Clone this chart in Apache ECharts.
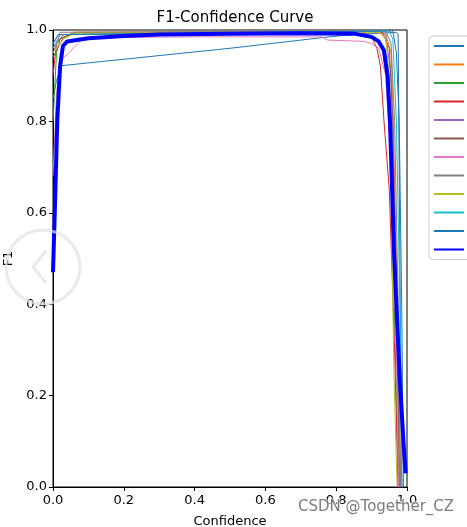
<!DOCTYPE html>
<html>
<head>
<meta charset="utf-8">
<script src="https://cdn.jsdelivr.net/npm/echarts@6/dist/echarts.min.js"></script>
<style>html,body{margin:0;padding:0;background:#fff}#c{width:467px;height:527px}</style>
</head>
<body>
<div id="c"></div>
<script>
const xTicks = [0, 0.2, 0.4, 0.6, 0.8, 1.0];
const yTicks = [0, 0.2, 0.4, 0.6, 0.8, 1.0];
const classNames = ['class0','class1','class2','class3','class4','class5','class6','class7','class8','class9','class10'];
const colors = ['#1f77b4','#ff7f0e','#2ca02c','#d62728','#9467bd','#8c564b','#e377c2','#7f7f7f','#bcbd22','#17becf','#1f77b4'];

const c0 = [[0,0.85],[0.01,0.89],[0.025,0.922],[0.5,0.96],[0.78,0.985],[0.85,0.99],[0.97,0.995],[0.975,0.99],[0.985,0.0]];
const c1 = [[0,0.96],[0.02,0.98],[0.06,0.995],[0.9,0.997],[0.94,0.99],[0.955,0.95],[0.96,0.84],[0.97,0.5],[0.98,0.1],[0.983,0]];
const c2 = [[0,0.80],[0.01,0.95],[0.02,0.98],[0.05,0.99],[0.8,0.993],[0.86,0.99],[0.88,0.985],[0.915,0.98],[0.93,0.96],[0.945,0.88],[0.955,0.7],[0.97,0.2],[0.975,0]];
const c3 = [[0,0.9],[0.01,0.97],[0.03,0.99],[0.88,0.993],[0.9,0.985],[0.915,0.96],[0.925,0.92],[0.935,0.8],[0.95,0.65],[0.965,0.3],[0.975,0]];
const c4 = [[0,0.95],[0.02,0.99],[0.92,0.998],[0.94,0.99],[0.955,0.9],[0.965,0.6],[0.975,0.2],[0.98,0]];
const c5 = [[0,0.94],[0.03,0.985],[0.07,0.995],[0.93,0.996],[0.95,0.96],[0.96,0.8],[0.97,0.4],[0.978,0]];
const c6 = [[0,0.68],[0.01,0.86],[0.02,0.93],[0.03,0.94],[0.045,0.95],[0.06,0.962],[0.08,0.978],[0.1,0.983],[0.4,0.985],[0.76,0.985],[0.775,0.978],[0.88,0.975],[0.9,0.97],[0.92,0.96],[0.94,0.9],[0.955,0.7],[0.97,0.3],[0.976,0]];
const c7 = [[0,0.97],[0.02,0.995],[0.94,0.998],[0.955,0.97],[0.965,0.8],[0.975,0.4],[0.982,0]];
const c8 = [[0,0.95],[0.03,0.98],[0.06,0.993],[0.92,0.995],[0.94,0.98],[0.95,0.9],[0.955,0.8],[0.958,0.5],[0.963,0.25],[0.972,0]];
const c9 = [[0,0.96],[0.02,0.99],[0.95,0.998],[0.96,0.98],[0.97,0.8],[0.98,0.4],[0.986,0]];
const c10 = [[0,0.97],[0.015,0.99],[0.96,0.998],[0.97,0.95],[0.978,0.8],[0.985,0.4],[0.99,0]];
const allName = 'all classes 0.99 at 0.596';
const allClasses = [[0,0.47],[0.005,0.6],[0.012,0.8],[0.02,0.92],[0.028,0.965],[0.04,0.975],[0.1,0.982],[0.2,0.987],[0.3,0.99],[0.5,0.992],[0.7,0.993],[0.85,0.992],[0.9,0.985],[0.92,0.975],[0.935,0.955],[0.945,0.9],[0.952,0.8],[0.963,0.52],[0.98,0.23],[0.99,0.1],[0.996,0.03]];

const classData = [c0,c1,c2,c3,c4,c5,c6,c7,c8,c9,c10];

const series = classData.map((d, i) => ({
  name: classNames[i], type: 'line', data: d, symbol: 'none', silent: true,
  lineStyle: { color: colors[i], width: 1 }, itemStyle: { color: colors[i] }, z: 2
}));
series.push({
  name: allName, type: 'line', data: allClasses, symbol: 'none', silent: true,
  lineStyle: { color: '#0000ff', width: 4 }, itemStyle: { color: '#0000ff' }, z: 3
});

const chart = echarts.init(document.getElementById('c'), null, { renderer: 'canvas' });
const font = 'DejaVu Sans';
chart.setOption({
  animation: false,
  backgroundColor: '#fff',
  title: { text: 'F1-Confidence Curve', left: 230, top: 6, textAlign: 'center',
    textStyle: { fontFamily: font, fontSize: 15, fontWeight: 'normal', color: '#000' } },
  grid: { left: 53, right: 60, top: 30, bottom: 40, outerBoundsMode: 'none', containLabel: false,
    show: true, borderColor: '#000', borderWidth: 1, backgroundColor: 'transparent' },
  legend: {
    orient: 'vertical', left: 429, top: 36, padding: [4, 4, 4, 4],
    itemWidth: 30, itemHeight: 14, itemGap: 6.5,
    backgroundColor: '#fff', borderColor: '#cccccc', borderWidth: 1, borderRadius: 4,
    textStyle: { fontFamily: font, fontSize: 12, color: '#000' },
    itemStyle: { opacity: 0, borderWidth: 0 },
    data: classNames.concat([allName]),
    selectedMode: false
  },
  xAxis: {
    type: 'value', min: 0, max: 1, interval: 0.2,
    name: 'Confidence', nameLocation: 'middle', nameGap: 28,
    nameTextStyle: { fontFamily: font, fontSize: 13, color: '#000' },
    axisLine: { show: true, lineStyle: { color: '#000', width: 1 } },
    axisTick: { show: true, inside: false, length: 4, lineStyle: { color: '#000' } },
    axisLabel: { fontFamily: font, fontSize: 13, color: '#000', margin: 7,
      formatter: v => (xTicks.includes(Math.round(v*10)/10) ? v.toFixed(1) : '') },
    splitLine: { show: false }
  },
  yAxis: {
    type: 'value', min: 0, max: 1, interval: 0.2,
    name: 'F1', nameLocation: 'middle', nameGap: 37,
    nameTextStyle: { fontFamily: font, fontSize: 13, color: '#000' },
    axisLine: { show: true, lineStyle: { color: '#000', width: 1 } },
    axisTick: { show: true, inside: false, length: 4, lineStyle: { color: '#000' } },
    axisLabel: { fontFamily: font, fontSize: 13, color: '#000', margin: 6,
      formatter: v => (yTicks.includes(Math.round(v*10)/10) ? v.toFixed(1) : '') },
    splitLine: { show: false }
  },
  series: series,
  graphic: [
    { type: 'circle', shape: { cx: 43, cy: 267, r: 37 }, z: 100,
      style: { fill: 'none', stroke: 'rgba(225,225,225,0.7)', lineWidth: 3 } },
    { type: 'polyline', shape: { points: [[46, 251], [33, 267], [46, 283]] }, z: 100,
      style: { fill: 'none', stroke: 'rgba(225,225,225,0.7)', lineWidth: 3 } },
    { type: 'text', x: 298, y: 500, z: 100,
      style: { text: 'CSDN @Together_CZ', fontFamily: font, fontSize: 15,
        fill: 'rgba(110,110,110,0.9)', stroke: 'rgba(255,255,255,0.7)', lineWidth: 2 } }
  ]
});
</script>
</body>
</html>
